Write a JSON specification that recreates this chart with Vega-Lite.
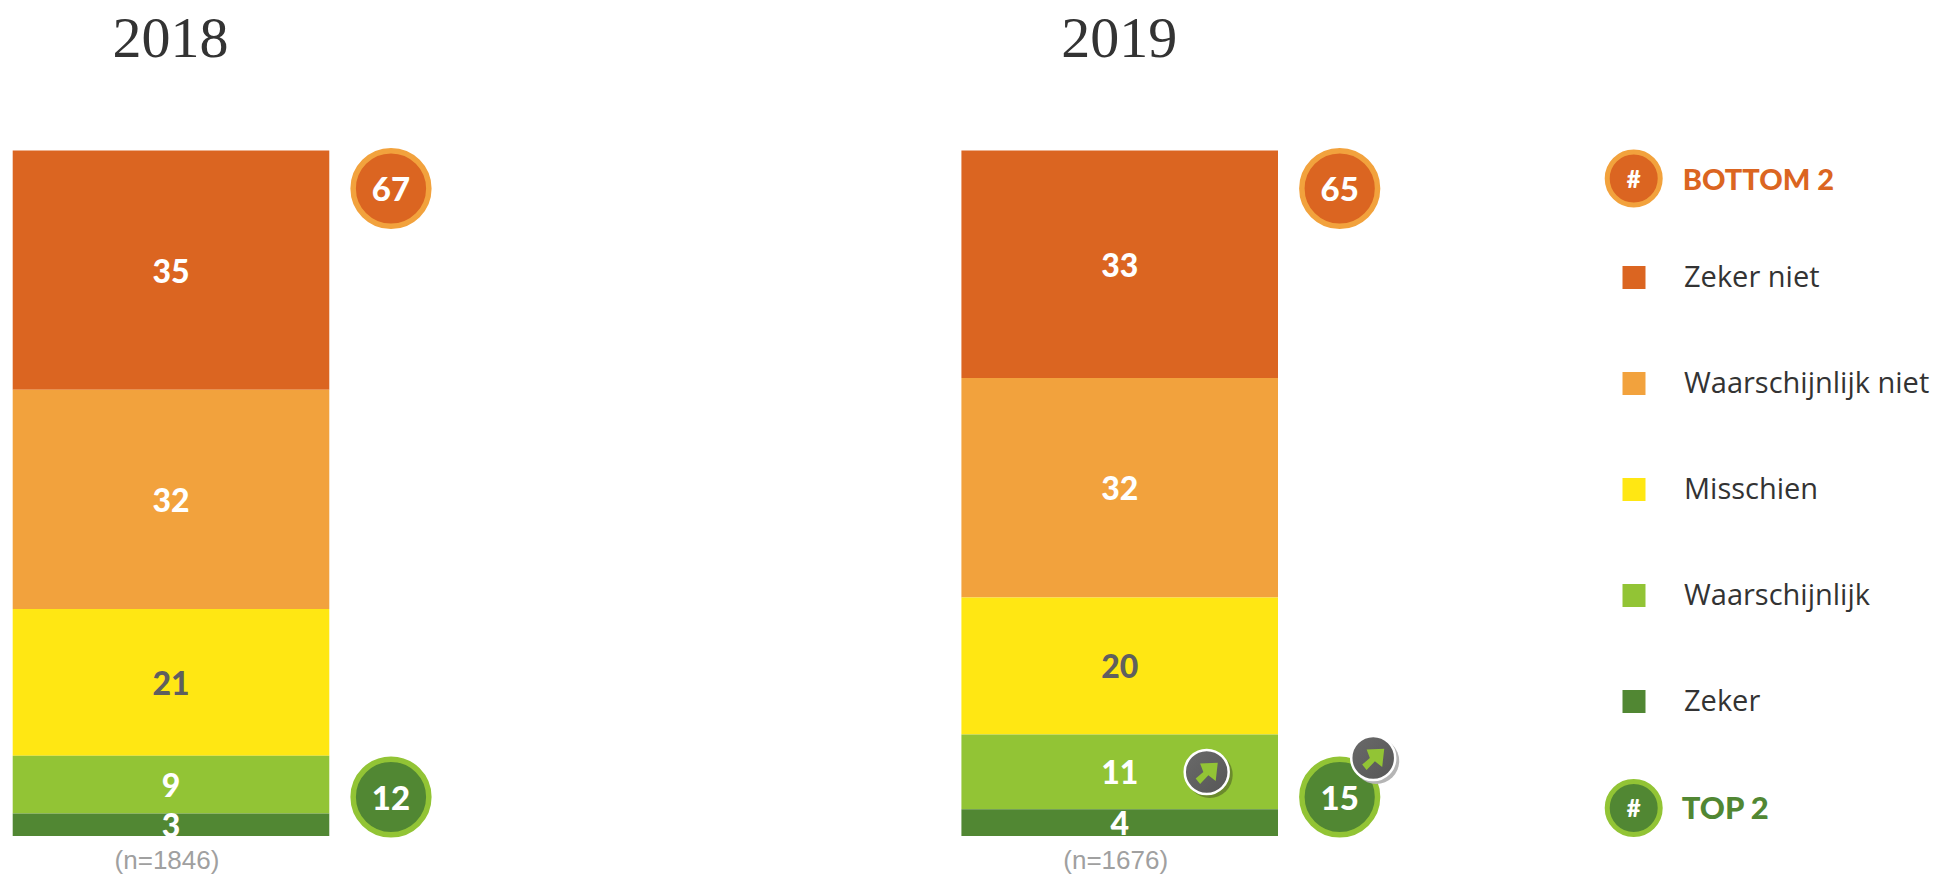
{"$schema":"https://vega.github.io/schema/vega-lite/v6.json","width":1942,"height":874,"padding":0,"autosize":{"type":"none"},"background":"white","config":{"view":{"stroke":null}},
"datasets":{
"segments":[
{"year":"2018","category":"Zeker niet","rank":5,"value":34.9,"label":"35"},
{"year":"2018","category":"Waarschijnlijk niet","rank":4,"value":32,"label":"32"},
{"year":"2018","category":"Misschien","rank":3,"value":21.4,"label":"21"},
{"year":"2018","category":"Waarschijnlijk","rank":2,"value":8.4,"label":"9"},
{"year":"2018","category":"Zeker","rank":1,"value":3.3,"label":"3"},
{"year":"2019","category":"Zeker niet","rank":5,"value":33.2,"label":"33"},
{"year":"2019","category":"Waarschijnlijk niet","rank":4,"value":32,"label":"32"},
{"year":"2019","category":"Misschien","rank":3,"value":20,"label":"20"},
{"year":"2019","category":"Waarschijnlijk","rank":2,"value":10.9,"label":"11"},
{"year":"2019","category":"Zeker","rank":1,"value":3.9,"label":"4"}],
"years":[{"year":"2018","n":"(n=1846)"},{"year":"2019","n":"(n=1676)"}],
"bottom2":[{"year":"2018","total":67},{"year":"2019","total":65}],
"top2":[{"year":"2018","total":12},{"year":"2019","total":15}],
"trend":[{"year":"2019"}]},
"encoding":{"x":{"field":"year","type":"nominal","axis":null,"scale":{"domain":["2018","2019"],"range":[12.7,1278],"paddingInner":0.6663,"paddingOuter":0}}},
"layer":[
{"data":{"name":"segments"},"mark":{"type":"bar"},"encoding":{
"y":{"field":"value","type":"quantitative","stack":"zero","axis":null,"scale":{"domain":[0,100],"range":[836,150.5],"nice":false,"zero":false}},
"order":{"field":"rank","type":"ordinal"},
"color":{"field":"category","type":"nominal","scale":{"domain":["Zeker niet","Waarschijnlijk niet","Misschien","Waarschijnlijk","Zeker"],"range":["#DB6521","#F2A23D","#FFE713","#92C435","#518733"]},
"legend":{"orient":"none","legendX":1619.5,"legendY":263,"title":null,"symbolType":"square","symbolSize":529,"symbolStrokeWidth":0,"labelFont":"Open Sans","labelFontSize":29,"labelColor":"#333333","labelOffset":35.5,"rowPadding":76,"labelLimit":320}}}},
{"data":{"name":"segments"},"mark":{"type":"text","font":"Lato","fontWeight":900,"fontSize":32,"baseline":"middle","yOffset":2.5},"encoding":{
"y":{"field":"value","type":"quantitative","stack":"zero","bandPosition":0.5},
"order":{"field":"rank","type":"ordinal"},
"detail":{"field":"category"},
"text":{"field":"label"},
"fill":{"condition":{"test":"datum.category === 'Misschien'","value":"#5f5f5f"},"value":"white"}}},
{"data":{"name":"years"},"mark":{"type":"text","font":"Liberation Serif","fontSize":58,"fill":"#333333","baseline":"alphabetic","yOffset":-94,"xOffset":-0.5},"encoding":{"y":{"datum":100,"type":"quantitative"},"text":{"field":"year"}}},
{"data":{"name":"years"},"mark":{"type":"text","font":"Liberation Sans","fontSize":26,"fill":"#a0a0a0","baseline":"middle","yOffset":25,"xOffset":-4},"encoding":{"y":{"datum":0,"type":"quantitative"},"text":{"field":"n"}}},
{"data":{"name":"bottom2"},"mark":{"type":"point","shape":"circle","filled":true,"size":5730,"fill":"#DB6521","stroke":"#F2A23D","strokeWidth":5.5,"opacity":1,"xOffset":220,"yOffset":38},"encoding":{"y":{"datum":100,"type":"quantitative"}}},
{"data":{"name":"bottom2"},"mark":{"type":"text","font":"Lato","fontWeight":900,"fontSize":33,"fill":"white","baseline":"middle","xOffset":220,"yOffset":40.5},"encoding":{"y":{"datum":100,"type":"quantitative"},"text":{"field":"total"}}},
{"data":{"name":"top2"},"mark":{"type":"point","shape":"circle","filled":true,"size":5730,"fill":"#518733","stroke":"#92C435","strokeWidth":5.5,"opacity":1,"xOffset":220,"yOffset":-39},"encoding":{"y":{"datum":0,"type":"quantitative"}}},
{"data":{"name":"top2"},"mark":{"type":"text","font":"Lato","fontWeight":900,"fontSize":33,"fill":"white","baseline":"middle","xOffset":220,"yOffset":-36},"encoding":{"y":{"datum":0,"type":"quantitative"},"text":{"field":"total"}}},
{"data":{"name":"trend"},"mark":{"type":"point","shape":"circle","filled":true,"size":2116,"fill":"#6b8a2c","opacity":1,"xOffset":90,"yOffset":-61},"encoding":{"y":{"datum":0,"type":"quantitative"}}},
{"data":{"name":"trend"},"mark":{"type":"point","shape":"circle","filled":true,"size":1936,"fill":{"gradient":"linear","x1":0,"y1":0,"x2":1,"y2":1,"stops":[{"offset":0,"color":"#6a6a6a"},{"offset":1,"color":"#565656"}]},"stroke":"white","strokeWidth":2.5,"opacity":1,"xOffset":87,"yOffset":-64},"encoding":{"y":{"datum":0,"type":"quantitative"}}},
{"data":{"name":"trend"},"mark":{"type":"point","shape":"M-0.55 -0.7 L0.92 -0.78 L0.75 0.75 L0.14 0.28 L-0.55 1 L-0.92 0.55 L-0.28 0 Z","filled":true,"size":576,"fill":"#92C435","opacity":1,"xOffset":87,"yOffset":-64},"encoding":{"y":{"datum":0,"type":"quantitative"}}},
{"data":{"name":"trend"},"mark":{"type":"point","shape":"circle","filled":true,"size":2116,"fill":"#b5b5b5","opacity":1,"xOffset":256.5,"yOffset":-75},"encoding":{"y":{"datum":0,"type":"quantitative"}}},
{"data":{"name":"trend"},"mark":{"type":"point","shape":"circle","filled":true,"size":1936,"fill":{"gradient":"linear","x1":0,"y1":0,"x2":1,"y2":1,"stops":[{"offset":0,"color":"#6a6a6a"},{"offset":1,"color":"#565656"}]},"stroke":"white","strokeWidth":2.5,"opacity":1,"xOffset":253.5,"yOffset":-78},"encoding":{"y":{"datum":0,"type":"quantitative"}}},
{"data":{"name":"trend"},"mark":{"type":"point","shape":"M-0.55 -0.7 L0.92 -0.78 L0.75 0.75 L0.14 0.28 L-0.55 1 L-0.92 0.55 L-0.28 0 Z","filled":true,"size":576,"fill":"#92C435","opacity":1,"xOffset":253.5,"yOffset":-78},"encoding":{"y":{"datum":0,"type":"quantitative"}}},
{"data":{"name":"trend"},"mark":{"type":"point","shape":"circle","filled":true,"size":2809,"fill":"#DB6521","stroke":"#F2A23D","strokeWidth":5,"opacity":1,"xOffset":514,"yOffset":28},"encoding":{"y":{"datum":100,"type":"quantitative"}}},
{"data":{"name":"trend"},"mark":{"type":"text","text":"#","font":"Lato","fontWeight":900,"fontSize":24,"fill":"white","baseline":"middle","xOffset":514,"yOffset":30},"encoding":{"y":{"datum":100,"type":"quantitative"}}},
{"data":{"name":"trend"},"mark":{"type":"text","text":"BOTTOM 2","font":"Lato","fontWeight":900,"fontSize":29,"fill":"#DB6521","align":"left","baseline":"middle","xOffset":563,"yOffset":30},"encoding":{"y":{"datum":100,"type":"quantitative"}}},
{"data":{"name":"trend"},"mark":{"type":"point","shape":"circle","filled":true,"size":2809,"fill":"#518733","stroke":"#92C435","strokeWidth":5,"opacity":1,"xOffset":514,"yOffset":-28},"encoding":{"y":{"datum":0,"type":"quantitative"}}},
{"data":{"name":"trend"},"mark":{"type":"text","text":"#","font":"Lato","fontWeight":900,"fontSize":24,"fill":"white","baseline":"middle","xOffset":514,"yOffset":-26},"encoding":{"y":{"datum":0,"type":"quantitative"}}},
{"data":{"name":"trend"},"mark":{"type":"text","text":"TOP 2","font":"Lato","fontWeight":900,"fontSize":31,"fill":"#518733","align":"left","baseline":"middle","xOffset":562,"yOffset":-26},"encoding":{"y":{"datum":0,"type":"quantitative"}}}
]}
